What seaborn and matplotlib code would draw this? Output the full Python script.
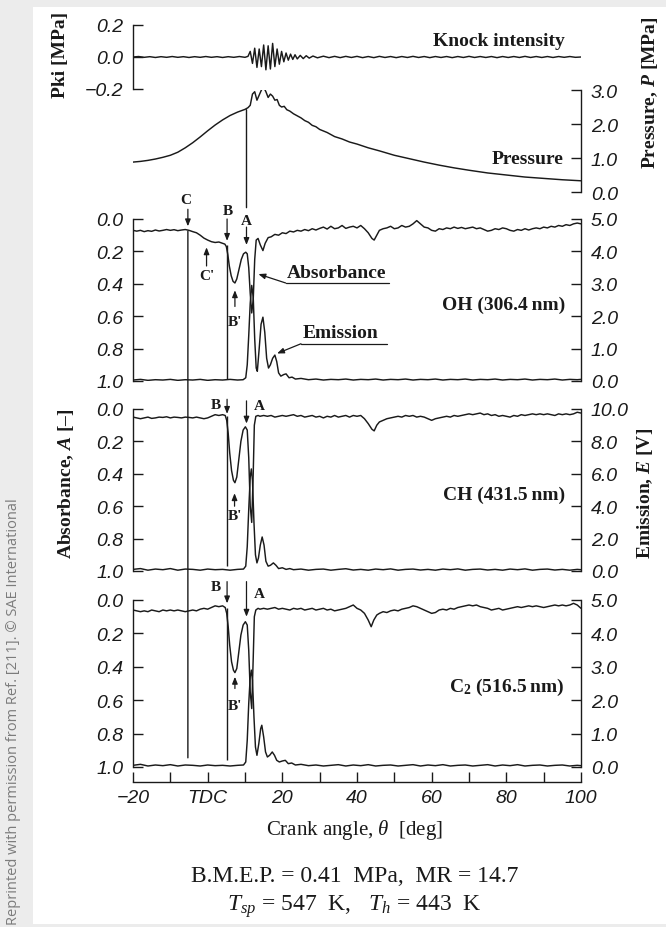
import matplotlib
matplotlib.use("Agg")
import matplotlib.pyplot as plt
import seaborn as sns
from matplotlib.patches import Rectangle, ConnectionPatch

# ---------------- data ----------------
knock_deg = [-20, -18.5, -17, -15.5, -14, -12.5, -11, -9.5, -8, -6.5, -5, -3.5, -2, -0.5, 1, 2.5, 4, 5.5, 7, 8.5, 10,
             10.8, 11.4, 12.0, 12.6, 13.2, 13.8, 14.4, 15.0, 15.6, 16.2, 16.8, 17.4, 18.0, 18.6, 19.2, 19.8, 20.4,
             21.0, 21.6, 22.2, 22.8, 23.4, 24.0, 24.8, 25.6, 26.4, 27.2, 28.2, 29.4, 31, 32.5, 34, 35.5, 37, 38.5,
             40, 41.5, 43, 44.5, 46, 47.5, 49, 50.5, 52, 53.5, 55, 56.5, 58, 59.5, 61, 62.5, 64, 65.5, 67, 68.5, 70,
             71.5, 73, 74.5, 76, 77.5, 79, 80.5, 82, 83.5, 85, 86.5, 88, 89.5, 91, 92.5, 94, 95.5, 97, 98.5, 100]
knock_mpa = [0.0, 0.003, -0.002, 0.002, -0.003, 0.002, -0.002, 0.003, -0.002, 0.002, -0.003, 0.002, -0.002, 0.003,
             -0.002, 0.002, -0.003, 0.002, -0.002, 0.003, -0.002,
             0.004, 0.035, -0.04, 0.055, -0.065, 0.05, -0.06, 0.075, -0.08, 0.07, -0.075, 0.085, -0.06, 0.05, -0.045,
             0.035, -0.03, 0.025, -0.02, 0.018, -0.015, 0.014, -0.012, 0.01, -0.01, 0.008, -0.007, 0.006, -0.005,
             0.005, -0.004, 0.004, -0.004, 0.004, -0.003, 0.004, -0.004, 0.003, -0.004, 0.004, -0.003, 0.003, -0.004,
             0.003, -0.003, 0.004, -0.003, 0.003, -0.004, 0.003, -0.003, 0.003, -0.004, 0.003, -0.003, 0.004, -0.003,
             0.003, -0.003, 0.003, -0.004, 0.003, -0.003, 0.003, -0.003, 0.004, -0.003, 0.003, -0.003, 0.003, -0.003,
             0.003, -0.002, 0.003, -0.002, 0.0]

pres_deg = [-20, -18, -16, -14, -12, -10, -8, -6, -4, -2, 0, 2, 4, 6, 8, 10, 10.8, 11.4, 12.0, 12.6, 13.2, 13.8,
            14.4, 15.0, 15.6, 16.2, 16.8, 17.4, 18.0, 18.6, 19.2, 19.8, 20.5, 21.2, 22, 23, 24, 25, 26, 27, 28, 29,
            30, 32, 34, 36, 38, 40, 43, 46, 50, 54, 58, 62, 66, 70, 75, 80, 85, 90, 95, 100]
pres_mpa = [0.88, 0.9, 0.93, 0.97, 1.02, 1.08, 1.17, 1.3, 1.45, 1.62, 1.8, 1.97, 2.12, 2.25, 2.35, 2.43, 2.48, 2.55,
            2.88, 2.95, 2.7, 2.85, 3.0, 3.08, 2.95, 2.78, 2.88, 2.82, 2.7, 2.72, 2.55, 2.5, 2.52, 2.42, 2.38, 2.3,
            2.24, 2.18, 2.1, 2.05, 1.96, 1.92, 1.84, 1.75, 1.63, 1.56, 1.47, 1.41, 1.3, 1.21, 1.08, 0.98, 0.88,
            0.79, 0.71, 0.64, 0.56, 0.5, 0.44, 0.4, 0.36, 0.33]

oh_abs_deg = [-20, -19, -18, -17, -16, -15, -14, -13, -12, -11, -10, -9, -8, -7, -6, -5, -4, -3, -2, -1, 0, 1, 2, 3,
              4, 4.6, 5.0, 5.4, 5.8, 6.3, 6.8, 7.3, 7.8, 8.4, 9.0, 9.6, 10.2, 10.6, 11.0, 11.4, 11.8, 12.2, 12.6,
              13.0, 13.5, 14.1, 14.8, 15.4, 16.2, 17, 18, 19, 20, 21, 22, 23, 24, 25, 26, 27, 28, 29, 30, 31, 32,
              33, 34, 35, 36, 37, 38, 39, 40, 41, 42, 43, 44, 44.6, 45.3, 46, 47, 48, 49, 50, 51, 52, 53, 54, 55,
              56, 57, 58, 59, 60, 61, 62, 63, 64, 65, 66, 67, 68, 69, 70, 71, 72, 73, 74, 75, 76, 77, 78, 79, 80,
              81, 82, 83, 84, 85, 86, 87, 88, 89, 90, 91, 92, 93, 94, 95, 96, 97, 98, 99, 100]
oh_abs = [0.07, 0.075, 0.07, 0.078, 0.072, 0.076, 0.068, 0.074, 0.07, 0.065, 0.07, 0.066, 0.072, 0.068, 0.065, 0.07,
          0.078, 0.085, 0.1, 0.118, 0.13, 0.14, 0.145, 0.142, 0.15, 0.155, 0.17, 0.22, 0.29, 0.35, 0.385, 0.395,
          0.37, 0.31, 0.25, 0.215, 0.205, 0.215, 0.3, 0.46, 0.58, 0.5, 0.25, 0.13, 0.12, 0.16, 0.195, 0.15, 0.115,
          0.11, 0.095, 0.1, 0.085, 0.09, 0.075, 0.08, 0.07, 0.075, 0.065, 0.072, 0.06, 0.068, 0.058, 0.05, 0.062,
          0.045, 0.06, 0.055, 0.04, 0.058, 0.05, 0.045, 0.055, 0.04, 0.06, 0.085, 0.12, 0.13, 0.1, 0.07, 0.06,
          0.055, 0.045, 0.06, 0.055, 0.04, 0.05, 0.045, 0.03, 0.01, 0.03, 0.05, 0.055, 0.07, 0.075, 0.06, 0.065,
          0.055, 0.06, 0.05, 0.058, 0.052, 0.06, 0.055, 0.05, 0.06, 0.055, 0.065, 0.075, 0.07, 0.06, 0.065, 0.055,
          0.06, 0.07, 0.075, 0.065, 0.07, 0.06, 0.068, 0.06, 0.055, 0.06, 0.05, 0.055, 0.045, 0.05, 0.04, 0.045,
          0.035, 0.04, 0.03, 0.025, 0.03]

oh_em_deg = [-20, -18, -16, -14, -12, -10, -8, -6, -4, -2, 0, 2, 4, 6, 8, 9.5, 10.2, 10.6, 11.0, 11.4, 11.8, 12.2,
             12.6, 13.0, 13.3, 13.8, 14.3, 14.8, 15.3, 15.8, 16.3, 16.8, 17.4, 18.0, 18.5, 19.0, 19.6, 20.4, 21.0,
             21.8, 22.6, 23.5, 25, 27, 29, 31, 33, 35, 37, 39, 41, 43, 45, 47, 49, 51, 53, 55, 57, 59, 61, 63, 65,
             67, 69, 71, 73, 75, 77, 79, 81, 83, 85, 87, 89, 91, 93, 95, 97, 99, 100]
oh_em = [0.03, 0.05, 0.02, 0.04, 0.03, 0.05, 0.02, 0.04, 0.03, 0.05, 0.02, 0.04, 0.03, 0.05, 0.03, 0.04, 0.1, 0.5,
         1.4, 2.4, 2.95, 2.6, 1.3, 0.4, 0.3, 1.0, 1.75, 1.97, 1.5, 0.7, 0.4, 0.5, 0.7, 0.8, 0.6, 0.25, 0.15, 0.2,
         0.22, 0.1, 0.12, 0.06, 0.08, 0.04, 0.06, 0.03, 0.05, 0.04, 0.06, 0.03, 0.05, 0.04, 0.06, 0.03, 0.05, 0.04,
         0.06, 0.03, 0.05, 0.04, 0.06, 0.03, 0.05, 0.04, 0.06, 0.03, 0.05, 0.04, 0.06, 0.03, 0.05, 0.04, 0.06, 0.03,
         0.05, 0.04, 0.06, 0.03, 0.05, 0.04, 0.05]

ch_abs_deg = [-20, -19, -18, -17, -16, -15, -14, -13, -12, -11, -10, -9, -8, -7, -6, -5, -4, -3, -2, -1, 0, 1, 2, 3,
              4, 4.7, 5.1, 5.5, 5.9, 6.4, 6.9, 7.3, 7.8, 8.3, 8.9, 9.5, 10.1, 10.6, 11.0, 11.4, 11.8, 12.2, 12.5,
              12.9, 13.5, 14, 15, 16, 17, 18, 19, 20, 21, 22, 23, 24, 25, 26, 27, 28, 29, 30, 31, 32, 33, 34, 35,
              36, 37, 38, 39, 40, 41, 42, 43, 44, 44.6, 45.3, 46, 47, 48, 49, 50, 51, 52, 53, 54, 55, 56, 57, 58,
              59, 60, 61, 62, 63, 64, 65, 66, 67, 68, 69, 70, 71, 72, 73, 74, 75, 76, 77, 78, 79, 80, 81, 82, 83,
              84, 85, 86, 87, 88, 89, 90, 91, 92, 93, 94, 95, 96, 97, 98, 99, 100]
ch_abs = [0.05, 0.055, 0.06, 0.055, 0.05, 0.058, 0.055, 0.05, 0.052, 0.048, 0.055, 0.05, 0.052, 0.055, 0.05, 0.052,
          0.055, 0.05, 0.055, 0.06, 0.055, 0.045, 0.035, 0.04, 0.035, 0.04, 0.07, 0.15, 0.27, 0.38, 0.44, 0.455,
          0.42, 0.32, 0.2, 0.13, 0.11, 0.13, 0.3, 0.6, 0.7, 0.4, 0.1, 0.045, 0.04, 0.045, 0.04, 0.045, 0.04, 0.05,
          0.045, 0.04, 0.045, 0.04, 0.035, 0.045, 0.04, 0.05, 0.045, 0.04, 0.05, 0.045, 0.055, 0.045, 0.05, 0.04,
          0.05, 0.045, 0.04, 0.05, 0.04, 0.045, 0.04, 0.06, 0.09, 0.125, 0.135, 0.1, 0.08, 0.07, 0.06, 0.055, 0.05,
          0.045, 0.05, 0.04, 0.045, 0.04, 0.05, 0.045, 0.05, 0.06, 0.07, 0.06, 0.055, 0.05, 0.045, 0.05, 0.04,
          0.045, 0.04, 0.035, 0.03, 0.035, 0.03, 0.025, 0.035, 0.03, 0.04, 0.035, 0.045, 0.04, 0.045, 0.05, 0.04,
          0.045, 0.035, 0.04, 0.035, 0.03, 0.035, 0.03, 0.035, 0.03, 0.035, 0.04, 0.03, 0.035, 0.03, 0.035, 0.03,
          0.02, 0.025]

ch_em_deg = [-20, -18, -16, -14, -12, -10, -8, -6, -4, -2, 0, 2, 4, 6, 8, 9.6, 10.2, 10.6, 11.0, 11.4, 11.7, 12.0,
             12.4, 12.8, 13.2, 13.6, 14.1, 14.6, 15.1, 15.6, 16.2, 16.8, 17.6, 18.3, 19, 20, 21, 22, 23, 25, 27,
             29, 31, 33, 35, 37, 39, 41, 43, 45, 47, 49, 51, 53, 55, 57, 59, 61, 63, 65, 67, 69, 71, 73, 75, 77,
             79, 81, 83, 85, 87, 89, 91, 93, 95, 97, 99, 100]
ch_em = [0.1, 0.15, 0.05, 0.12, 0.08, 0.15, 0.05, 0.12, 0.1, 0.05, 0.12, 0.08, 0.1, 0.05, 0.1, 0.12, 0.3, 1.5, 3.8,
         5.8, 6.3, 5.6, 3.0, 1.0, 0.5, 0.8, 1.6, 2.1, 1.6, 0.6, 0.3, 0.35, 0.5, 0.35, 0.15, 0.2, 0.1, 0.15, 0.08,
         0.12, 0.05, 0.1, 0.12, 0.05, 0.1, 0.14, 0.06, 0.1, 0.05, 0.12, 0.08, 0.13, 0.05, 0.1, 0.12, 0.06, 0.1,
         0.05, 0.12, 0.08, 0.13, 0.05, 0.1, 0.12, 0.06, 0.1, 0.05, 0.12, 0.08, 0.13, 0.05, 0.1, 0.12, 0.06, 0.1,
         0.05, 0.1, 0.08]

c2_abs_deg = ch_abs_deg[:36] + [10.1, 10.6, 11.0, 11.4, 11.8, 12.2, 12.5, 12.9, 13.5, 14, 15, 16, 17, 18, 19, 20,
              21, 22, 23, 24, 25, 26, 27, 28, 29, 30, 31, 32, 33, 34, 35, 36, 37, 38, 39, 40, 41, 42, 43, 43.8,
              44.5, 45.3, 46, 47, 48, 49, 50, 51, 52, 53, 54, 55, 56, 57, 58, 59, 60, 61, 62, 63, 64, 65, 66, 67,
              68, 69, 70, 71, 72, 73, 74, 75, 76, 77, 78, 79, 80, 81, 82, 83, 84, 85, 86, 87, 88, 89, 90, 91, 92,
              93, 94, 95, 96, 97, 98, 99, 100]
c2_abs = [0.06, 0.065, 0.07, 0.065, 0.07, 0.06, 0.065, 0.07, 0.06, 0.065, 0.06, 0.065, 0.06, 0.065, 0.07, 0.065,
          0.06, 0.065, 0.055, 0.05, 0.055, 0.045, 0.035, 0.04, 0.035, 0.045, 0.08, 0.16, 0.27, 0.37, 0.42, 0.435,
          0.41, 0.32, 0.21, 0.15,
          0.13, 0.15, 0.3, 0.55, 0.65, 0.35, 0.1, 0.06, 0.05, 0.055, 0.05, 0.055, 0.05, 0.045, 0.055, 0.05, 0.055,
          0.06, 0.05, 0.055, 0.05, 0.06, 0.055, 0.05, 0.06, 0.055, 0.05, 0.06, 0.055, 0.065, 0.06, 0.055, 0.05,
          0.04, 0.03, 0.05, 0.06, 0.08, 0.12, 0.16, 0.12, 0.09, 0.08, 0.07, 0.075, 0.065, 0.06, 0.065, 0.055, 0.05,
          0.045, 0.035, 0.04, 0.05, 0.06, 0.07, 0.08, 0.075, 0.06, 0.055, 0.06, 0.05, 0.055, 0.045, 0.04, 0.035,
          0.03, 0.035, 0.03, 0.04, 0.045, 0.05, 0.06, 0.055, 0.05, 0.06, 0.055, 0.05, 0.045, 0.04, 0.045, 0.04,
          0.035, 0.04, 0.035, 0.04, 0.045, 0.04, 0.035, 0.03, 0.035, 0.03, 0.035, 0.03, 0.02, 0.03, 0.05]

c2_em_deg = [-20, -18, -16, -14, -12, -10, -8, -6, -4, -2, 0, 2, 4, 6, 8, 9.6, 10.2, 10.6, 11.0, 11.4, 11.7, 12.0,
             12.4, 12.8, 13.2, 13.7, 14.2, 14.5, 15.0, 15.5, 16.0, 16.6, 17.3, 17.9, 18.5, 19.2, 20, 20.8, 21.6,
             22.5, 23.5, 25, 27, 29, 31, 33, 35, 37, 39, 41, 43, 45, 47, 49, 51, 53, 55, 57, 59, 61, 63, 65, 67,
             69, 71, 73, 75, 77, 79, 81, 83, 85, 87, 89, 91, 93, 95, 97, 99, 100]
c2_em = [0.05, 0.08, 0.03, 0.06, 0.04, 0.07, 0.03, 0.06, 0.05, 0.03, 0.06, 0.04, 0.05, 0.03, 0.05, 0.06, 0.15, 0.8,
         1.9, 2.7, 2.9, 2.6, 1.5, 0.6, 0.35, 0.7, 1.15, 1.25, 0.9, 0.45, 0.3, 0.35, 0.45, 0.35, 0.2, 0.15, 0.18,
         0.2, 0.1, 0.12, 0.06, 0.08, 0.04, 0.06, 0.03, 0.05, 0.07, 0.03, 0.06, 0.04, 0.07, 0.03, 0.05, 0.06, 0.03,
         0.05, 0.07, 0.03, 0.06, 0.04, 0.07, 0.03, 0.05, 0.06, 0.03, 0.05, 0.07, 0.03, 0.06, 0.04, 0.07, 0.03,
         0.05, 0.06, 0.03, 0.05, 0.06, 0.03, 0.05, 0.04]

xtick_vals = [-20, -10, 0, 10, 20, 30, 40, 50, 60, 70, 80, 90, 100]
xtick_labels = ["\u221220", "", "TDC", "", "20", "", "40", "", "60", "", "80", "", "100"]
abs_ticks = [0.0, 0.2, 0.4, 0.6, 0.8, 1.0]
abs_labels = ["0.0", "0.2", "0.4", "0.6", "0.8", "1.0"]
em5_ticks = [0, 1, 2, 3, 4, 5]
em5_labels = ["0.0", "1.0", "2.0", "3.0", "4.0", "5.0"]
em10_ticks = [0, 2, 4, 6, 8, 10]
em10_labels = ["0.0", "2.0", "4.0", "6.0", "8.0", "10.0"]
p_ticks = [0, 1, 2, 3]
p_labels = ["0.0", "1.0", "2.0", "3.0"]
k_ticks = [-0.2, 0.0, 0.2]
k_labels = ["\u22120.2", "0.0", "0.2"]

theta_C, theta_B, theta_A = -5.3, 5.2, 10.4

# ---------------- style ----------------
sns.set_style("ticks")
plt.rcParams["font.family"] = ["Liberation Sans", "DejaVu Sans"]
plt.rcParams["mathtext.fontset"] = "custom"
plt.rcParams["mathtext.rm"] = "Liberation Serif"
plt.rcParams["mathtext.it"] = "Liberation Serif:italic"
plt.rcParams["mathtext.bf"] = "Liberation Serif:bold"
plt.rcParams["mathtext.bfit"] = "Liberation Serif:italic:bold"
plt.rcParams["axes.linewidth"] = 1.0

INK = "#1a1a1a"
LW = 1.05
SERIF = ["Liberation Serif", "DejaVu Serif"]
TICKFS = 14

W, H = 666, 928
fig = plt.figure(figsize=(W / 100, H / 100), dpi=100)
fig.patch.set_facecolor("#ececec")
fig.add_artist(Rectangle((33 / W, 3 / H), 1 - 33 / W, 917 / H, transform=fig.transFigure,
                         facecolor="white", edgecolor="none", zorder=-5))

X0, X1 = 133, 581


def rect(top, bot):
    return [X0 / W, 1 - bot / H, (X1 - X0) / W, (bot - top) / H]


def clean(ax, keep):
    for s in ["left", "right", "top", "bottom"]:
        ax.spines[s].set_visible(s in keep)
        ax.spines[s].set_color(INK)
    ax.set_facecolor("none")
    ax.set_xlim(-20, 100)
    ax.set_xlabel("")
    ax.set_ylabel("")


def yticks(ax, ticks, labels, side):
    ax.set_yticks(ticks)
    ax.set_yticklabels(labels, fontstyle="italic", fontsize=TICKFS, color=INK)
    ax.tick_params(axis="y", direction="in", length=7, width=1.0, pad=7, colors=INK,
                   left=(side == "left"), right=(side == "right"),
                   labelleft=(side == "left"), labelright=(side == "right"))


def line(ax, x, y):
    sns.lineplot(x=x, y=y, ax=ax, color=INK, linewidth=LW, estimator=None, sort=False)


def arrow(ax, tail, tip):
    ax.annotate("", xy=tip, xytext=tail, annotation_clip=False,
                arrowprops=dict(arrowstyle="-|>,head_length=0.45,head_width=0.18", color=INK,
                                lw=0.9, shrinkA=0, shrinkB=0, mutation_scale=9))


def letter(ax, x, y, s):
    ax.text(x, y, s, ha="center", va="center", family=SERIF, fontweight="bold", fontsize=11, color=INK)


# knock panel
ax_k = fig.add_axes(rect(26, 90))
line(ax_k, knock_deg, knock_mpa)
clean(ax_k, ["left"])
ax_k.set_ylim(-0.2, 0.2)
yticks(ax_k, k_ticks, k_labels, "left")
ax_k.set_xticks([])
ax_k.text(95.7, 0.1, "Knock intensity", ha="right", va="center", family=SERIF, fontweight="bold",
          fontsize=14, color=INK)

# pressure panel
ax_p = fig.add_axes(rect(91, 193))
line(ax_p, pres_deg, pres_mpa)
clean(ax_p, ["right"])
ax_p.set_ylim(0, 3)
ax_p.yaxis.tick_right()
yticks(ax_p, p_ticks, p_labels, "right")
ax_p.set_xticks([])
ax_p.text(95.2, 1.0, "Pressure", ha="right", va="center", family=SERIF, fontweight="bold",
          fontsize=14, color=INK)

# spectral panels
panels = []
for (top, bot, adeg, aval, edeg, evals, emax, eticks, elabels) in [
        (220, 382, oh_abs_deg, oh_abs, oh_em_deg, oh_em, 5, em5_ticks, em5_labels),
        (410, 572, ch_abs_deg, ch_abs, ch_em_deg, ch_em, 10, em10_ticks, em10_labels),
        (601, 768, c2_abs_deg, c2_abs, c2_em_deg, c2_em, 5, em5_ticks, em5_labels)]:
    ax = fig.add_axes(rect(top, bot))
    line(ax, adeg, aval)
    clean(ax, ["left"])
    ax.set_ylim(1.0, 0.0)
    yticks(ax, abs_ticks, abs_labels, "left")
    ax2 = ax.twinx()
    line(ax2, edeg, evals)
    clean(ax2, ["right"])
    ax2.set_ylim(0, emax)
    yticks(ax2, eticks, elabels, "right")
    ax.set_xticks([])
    panels.append((ax, ax2))

ax_oh, ax_ch, ax_c2 = [p[0] for p in panels]

# bottom crank-angle axis (spine offset below the last panel)
ax_c2.spines["bottom"].set_visible(True)
ax_c2.spines["bottom"].set_position(("outward", 11))
ax_c2.set_xticks(xtick_vals)
ax_c2.set_xticklabels(xtick_labels, fontstyle="italic", fontsize=TICKFS, color=INK)
ax_c2.tick_params(axis="x", direction="in", length=7, width=1.0, pad=5, colors=INK, bottom=True)

# vertical marker lines
fig.add_artist(ConnectionPatch(xyA=(theta_A, 2.42), coordsA=ax_p.transData,
                               xyB=(theta_A, -0.07), coordsB=ax_oh.transData, color=INK, lw=1.0))
fig.add_artist(ConnectionPatch(xyA=(theta_C, 0.075), coordsA=ax_oh.transData,
                               xyB=(theta_C, 0.945), coordsB=ax_c2.transData, color=INK, lw=1.0))
for ax, y0, y1 in [(ax_oh, 0.16, 0.99), (ax_ch, 0.045, 0.97), (ax_c2, 0.05, 0.96)]:
    ax.vlines(theta_B, y0, y1, color=INK, lw=1.0)

# OH annotations
letter(ax_oh, -5.8, -0.12, "C")
arrow(ax_oh, (theta_C, -0.06), (theta_C, 0.045))
letter(ax_oh, -0.3, 0.35, "C'")
arrow(ax_oh, (-0.3, 0.29), (-0.3, 0.175))
letter(ax_oh, 5.3, -0.05, "B")
arrow(ax_oh, (theta_B, 0.0), (theta_B, 0.135))
letter(ax_oh, 10.4, 0.01, "A")
arrow(ax_oh, (theta_A, 0.05), (theta_A, 0.16))
letter(ax_oh, 7.3, 0.63, "B'")
arrow(ax_oh, (7.3, 0.54), (7.3, 0.44))
ax_oh.text(34.5, 0.33, "Absorbance", ha="center", va="center", family=SERIF, fontweight="bold",
           fontsize=14, color=INK)
ax_oh.plot([20.9, 48.6], [0.395, 0.395], color=INK, lw=0.9)
arrow(ax_oh, (20.9, 0.395), (13.6, 0.34))
ax_oh.text(35.5, 0.70, "Emission", ha="center", va="center", family=SERIF, fontweight="bold",
           fontsize=14, color=INK)
ax_oh.plot([25.0, 48.0], [0.77, 0.77], color=INK, lw=0.9)
arrow(ax_oh, (25.0, 0.77), (18.6, 0.83))
ax_oh.text(95.7, 0.525, "OH (306.4\u2009nm)", ha="right", va="center", family=SERIF, fontweight="bold",
           fontsize=14, color=INK)

# CH annotations
letter(ax_ch, 2.3, -0.03, "B")
arrow(ax_ch, (theta_B, -0.06), (theta_B, 0.03))
arrow(ax_ch, (theta_A, -0.05), (theta_A, 0.09))
letter(ax_ch, 13.8, -0.02, "A")
letter(ax_ch, 7.2, 0.66, "B'")
arrow(ax_ch, (7.2, 0.6), (7.2, 0.52))
ax_ch.text(95.7, 0.525, "CH (431.5\u2009nm)", ha="right", va="center", family=SERIF, fontweight="bold",
           fontsize=14, color=INK)

# C2 annotations
letter(ax_c2, 2.3, -0.08, "B")
arrow(ax_c2, (theta_B, -0.11), (theta_B, 0.02))
arrow(ax_c2, (theta_A, -0.11), (theta_A, 0.1))
letter(ax_c2, 13.8, -0.04, "A")
letter(ax_c2, 7.3, 0.63, "B'")
arrow(ax_c2, (7.3, 0.53), (7.3, 0.46))
ax_c2.text(95.5, 0.52, r"C$_\mathbf{2}$ (516.5\u2009nm)".replace("\\u2009", "\u2009"), ha="right",
           va="center", family=SERIF, fontweight="bold", fontsize=14, color=INK)

# axis titles
fig.text(60 / W, 1 - 55 / H, "Pki [MPa]", rotation=90, ha="center", va="center", family=SERIF,
         fontweight="bold", fontsize=14, color=INK)
fig.text(66 / W, 1 - 484 / H, r"Absorbance, $\mathbfit{A}$ [\u2013]".replace("\\u2013", "\u2013"),
         rotation=90, ha="center", va="center", family=SERIF, fontweight="bold", fontsize=14, color=INK)
fig.text(650 / W, 1 - 93 / H, r"Pressure, $\mathbfit{P}$ [MPa]", rotation=90, ha="center", va="center",
         family=SERIF, fontweight="bold", fontsize=14, color=INK)
fig.text(645 / W, 1 - 493 / H, r"Emission, $\mathbfit{E}$ [V]", rotation=90, ha="center", va="center",
         family=SERIF, fontweight="bold", fontsize=14, color=INK)
fig.text(355 / W, 1 - 830 / H, r"Crank angle, $\theta$  [deg]", ha="center", va="center", family=SERIF,
         fontsize=15, color=INK)
fig.text(355 / W, 1 - 877 / H, "B.M.E.P. = 0.41  MPa,  MR = 14.7", ha="center", va="center",
         family=SERIF, fontsize=17, color=INK)
fig.text(354 / W, 1 - 907 / H, r"$T_{sp}$ = 547  K,   $T_h$ = 443  K", ha="center", va="center",
         family=SERIF, fontsize=17, color=INK)

# side credit
fig.text(14 / W, 3 / H, "Reprinted with permission from Ref. [211]. \u00a9 SAE International", rotation=90,
         ha="center", va="bottom", family=["Open Sans", "DejaVu Sans"], fontsize=10.5, color="#7c7c7c")

fig.savefig("out.png", dpi=100)
